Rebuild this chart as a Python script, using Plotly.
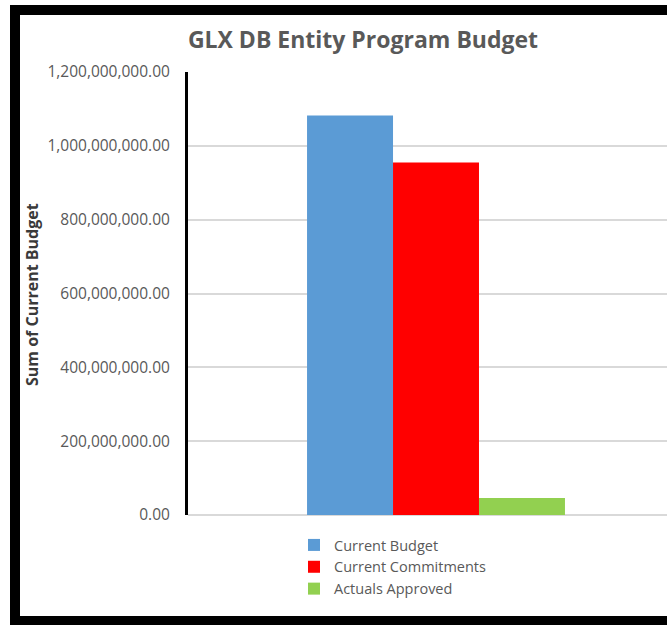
import plotly.graph_objects as go

series = ["Current Budget", "Current Commitments", "Actuals Approved"]
values = [1082000000, 955000000, 46000000]
colors = ["#5B9BD5", "#FF0000", "#92D050"]
category = ["Total"]
tick_vals = [0, 200000000, 400000000, 600000000, 800000000, 1000000000, 1200000000]

W, H = 667, 625
L, T, B = 188, 72, 110
pw = W - L
ph = H - T - B

def px(x):
    return (x - L) / pw

def py(y):
    return (H - B - y) / ph

fig = go.Figure()
for name, v, c in zip(series, values, colors):
    fig.add_trace(go.Bar(x=category, y=[v], name=name, marker=dict(color=c, line=dict(width=0))))

FONT = "Open Sans"
GRAY = "#595959"
fig.update_layout(
    width=W, height=H,
    margin=dict(l=L, r=0, t=T, b=B),
    paper_bgcolor="white", plot_bgcolor="white",
    barmode="group", bargap=0.48, bargroupgap=0,
    title=dict(text="<b>GLX DB Entity Program Budget</b>", x=px(363), xref="paper", xanchor="center",
               y=1 - 40 / H, yanchor="middle", font=dict(family=FONT, size=23, color=GRAY)),
    xaxis=dict(range=[-0.5, 0.4657], showticklabels=False, showgrid=False, zeroline=False,
               showline=False, ticks=""),
    yaxis=dict(range=[0, 1200000000], tickvals=tick_vals, tickformat=",.2f",
               tickfont=dict(family=FONT, size=15.5, color=GRAY),
               ticklabelstandoff=12,
               showgrid=True, gridcolor="#D9D9D9", gridwidth=1.5,
               zeroline=True, zerolinecolor="#D9D9D9", zerolinewidth=1.5,
               showline=True, linecolor="black", linewidth=3, ticks="", ticklen=0),
    legend=dict(orientation="v", x=px(294), xanchor="left", y=py(567), yanchor="middle",
                font=dict(family=FONT, size=14.5, color=GRAY), itemwidth=30,
                bgcolor="rgba(0,0,0,0)", traceorder="normal"),
    showlegend=True,
    annotations=[dict(text="<b>Sum of Current Budget</b>", textangle=-90, xref="paper", yref="paper",
                      x=px(32), y=py(295), xanchor="center", yanchor="middle", showarrow=False,
                      font=dict(family=FONT, size=16, color="#3A3A3A"))],
    shapes=[dict(type="rect", xref="paper", yref="paper",
                 x0=px(15), x1=px(690), y0=py(621), y1=py(10),
                 line=dict(color="black", width=10), fillcolor="rgba(0,0,0,0)", layer="above")],
)

fig.write_html("out.html")
